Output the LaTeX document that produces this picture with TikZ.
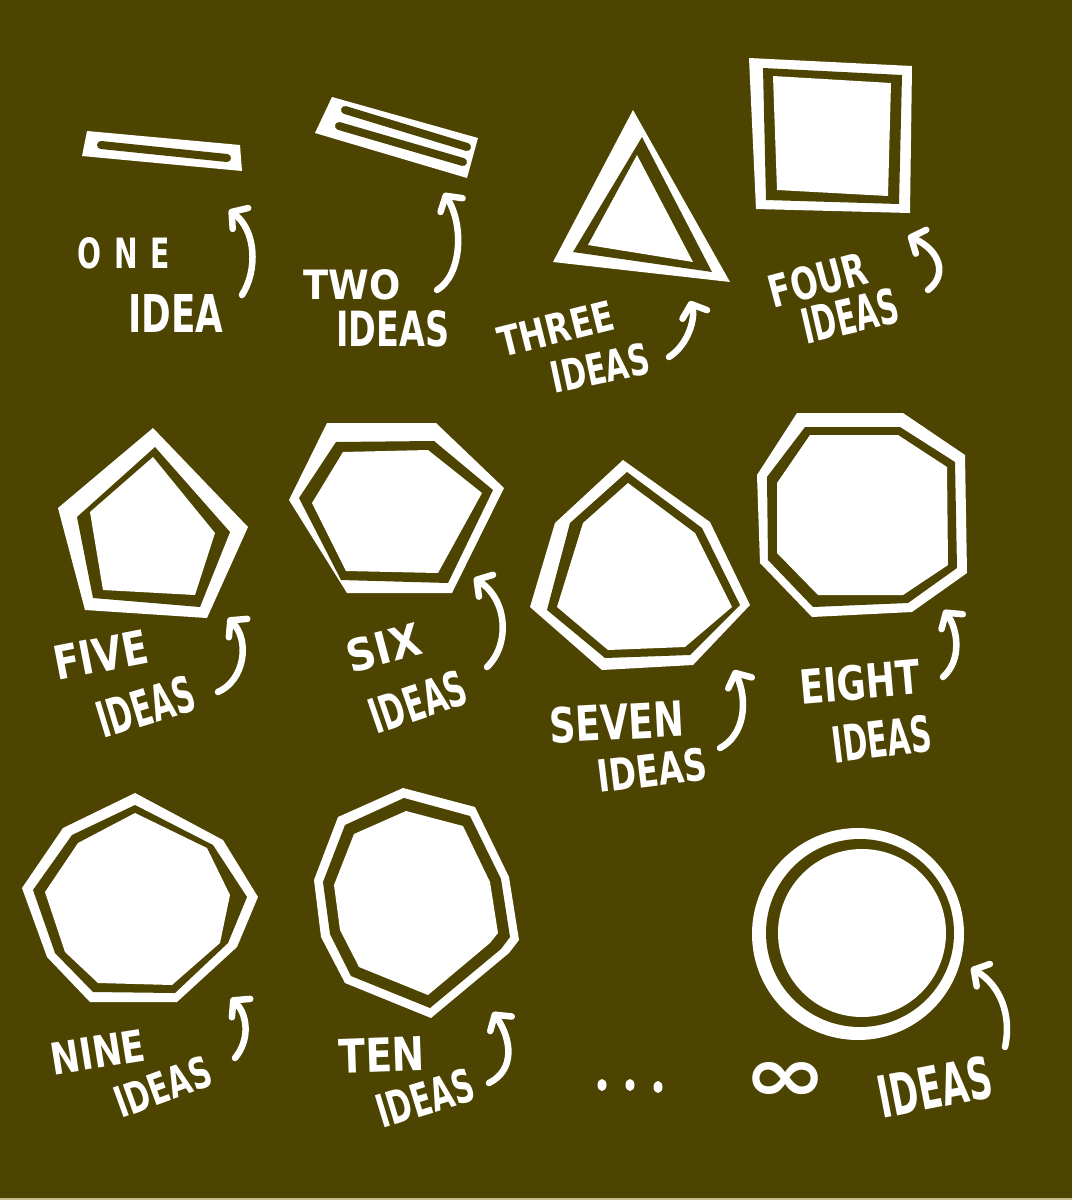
\documentclass[tikz,border=0pt]{standalone}
\usepackage{fontspec}
\usepackage{graphicx}
\usetikzlibrary{arrows.meta}
\newfontfamily\hand{DejaVu Sans Condensed Bold}
\definecolor{bg}{RGB}{77,68,1}
\definecolor{strip}{RGB}{196,190,140}
\newcommand\hlab[3]{\resizebox{#1pt}{#2pt}{\hand #3}}
\tikzset{
  wfill/.style={fill=white},
  bfill/.style={fill=bg},
  slotline/.style={draw=bg, line width=8pt, line cap=round},
  arr/.style={draw=white, line width=6.5pt, line cap=round,
    -{Straight Barb[length=11pt,width=26pt,round]}},
  lbl/.style={text=white, inner sep=0pt},
}
\begin{document}
\begin{tikzpicture}[x=1pt,y=-1pt]
\fill[bg] (0,0) rectangle (1072,1200);
\useasboundingbox (0,0) rectangle (1072,1200);
\fill[strip] (0,1197.5) rectangle (1072,1200);

% ONE
\fill[wfill] (87,131) -- (240,145) -- (242,171) -- (82,156) -- cycle;
\draw[slotline] (101,145) -- (227,158);
% TWO
\fill[wfill] (332,97) -- (478,138) -- (467,178) -- (315,133) -- cycle;
\draw[slotline] (345,110) -- (467,147);
\draw[slotline] (339,126) -- (463,162);
% THREE
\fill[wfill] (633,110) -- (553,262) -- (730,282) -- cycle;
\fill[bfill] (642,137) -- (573,252) -- (712,272) -- cycle;
\fill[wfill] (637,155) -- (588,245) -- (693,262) -- cycle;
% FOUR
\fill[wfill] (749,58) -- (912,66) -- (910,213) -- (756,209) -- cycle;
\fill[bfill] (763,68) -- (902,75) -- (899,204) -- (766,200) -- cycle;
\fill[wfill] (773,76) -- (891,83) -- (888,196) -- (777,190) -- cycle;
% FIVE
\fill[wfill] (153,428) -- (248,527) -- (207,618) -- (85,610) -- (58,508) -- cycle;
\fill[bfill] (155,447) -- (230,532) -- (200,607) -- (93,598) -- (77,517) -- cycle;
\fill[wfill] (153,457) -- (215,533) -- (195,595) -- (103,590) -- (90,512) -- cycle;
% SIX
\fill[wfill] (327,423) -- (436,423) -- (504,488) -- (452,593) -- (347,593) -- (289,500) -- cycle;
\fill[bfill] (336,442) -- (434,441) -- (493,490) -- (448,583) -- (341,580) -- (299,498) -- cycle;
\fill[wfill] (343,452) -- (428,450) -- (482,493) -- (438,573) -- (346,571) -- (312,503) -- cycle;
% SEVEN
\fill[wfill] (623,460) -- (710,522) -- (750,605) -- (693,665) -- (602,670) -- (530,607) -- (555,523) -- cycle;
\fill[bfill] (627,472) -- (702,528) -- (740,605) -- (690,655) -- (605,658) -- (547,610) -- (570,523) -- cycle;
\fill[wfill] (628,483) -- (695,533) -- (732,607) -- (685,647) -- (608,650) -- (557,607) -- (583,523) -- cycle;
% EIGHT
\fill[wfill] (797,413) -- (903,413) -- (965,455) -- (967,573) -- (912,612) -- (812,617) -- (760,563) -- (757,475) -- cycle;
\fill[bfill] (805,427) -- (900,427) -- (955,462) -- (957,568) -- (908,603) -- (813,607) -- (768,560) -- (767,477) -- cycle;
\fill[wfill] (810,435) -- (898,435) -- (947,467) -- (948,565) -- (903,595) -- (818,595) -- (777,553) -- (777,483) -- cycle;
% NINE
\fill[wfill] (135,793) -- (223,840) -- (258,897) -- (237,947) -- (177,1002) -- (90,1002) -- (47,957) -- (22,888) -- (63,828) -- cycle;
\fill[bfill] (135,805) -- (213,845) -- (247,897) -- (228,943) -- (175,993) -- (93,992) -- (55,953) -- (33,890) -- (72,835) -- cycle;
\fill[wfill] (135,813) -- (207,848) -- (230,895) -- (220,943) -- (172,985) -- (98,983) -- (65,952) -- (45,892) -- (78,843) -- cycle;
% TEN
\fill[wfill] (403,788) -- (475,807) -- (509,877) -- (519,940) -- (509,953) -- (431,1018) -- (345,983) -- (321,937) -- (314,880) -- (338,817) -- cycle;
\fill[bfill] (404,798) -- (470,816) -- (501,879) -- (510,937) -- (501,949) -- (430,1008) -- (351,976) -- (330,934) -- (323,882) -- (345,825) -- cycle;
\fill[wfill] (406,811) -- (463,826) -- (490,882) -- (498,933) -- (490,943) -- (428,995) -- (359,967) -- (340,930) -- (334,885) -- (354,834) -- cycle;
% INFINITY circle
\fill[wfill] (858,934) circle[radius=106];
\fill[bfill] (860,933) circle[radius=94];
\fill[wfill] (862,933) circle[radius=84];
% dots
\fill[wfill] (602,1085) ellipse[x radius=4.5, y radius=6];
\fill[wfill] (630,1085) ellipse[x radius=4.5, y radius=6];
\fill[wfill] (658,1087) ellipse[x radius=4.5, y radius=6];

% labels
\node[lbl] (oneA) at (124,253) {\hlab{92}{31}{O\hspace{0.4em}N\hspace{0.4em}E}};
\node[lbl] (oneB) at (176,313) {\hlab{95}{38}{IDEA}};
\node[lbl] (twoA) at (352,285) {\hlab{97}{30}{TWO}};
\node[lbl] (twoB) at (393,329) {\hlab{113}{36}{IDEAS}};
\node[lbl, rotate=14] (threeA) at (556,329) {\hlab{118}{30}{THREE}};
\node[lbl, rotate=12] (threeB) at (600,368) {\hlab{100}{32}{IDEAS}};
\node[lbl, rotate=15] (fourA) at (818,280) {\hlab{100}{33}{FOUR}};
\node[lbl, rotate=13] (fourB) at (850,316) {\hlab{98}{36}{IDEAS}};
\node[lbl, rotate=11] (fiveA) at (101,655) {\hlab{95}{34}{FIVE}};
\node[lbl, rotate=17] (fiveB) at (146,707) {\hlab{100}{37}{IDEAS}};
\node[lbl, rotate=15] (sixA) at (384,648) {\hlab{75}{33}{SIX}};
\node[lbl, rotate=19] (sixB) at (418,702) {\hlab{100}{36}{IDEAS}};
\node[lbl, rotate=3] (sevenA) at (617,722) {\hlab{135}{36}{SEVEN}};
\node[lbl, rotate=7] (sevenB) at (652,770) {\hlab{110}{33}{IDEAS}};
\node[lbl, rotate=5] (eightA) at (860,682) {\hlab{120}{35}{EIGHT}};
\node[lbl, rotate=7] (eightB) at (882,739) {\hlab{100}{37}{IDEAS}};
\node[lbl, rotate=9] (nineA) at (98,1052) {\hlab{95}{32}{NINE}};
\node[lbl, rotate=20] (nineB) at (163,1087) {\hlab{100}{32}{IDEAS}};
\node[lbl, rotate=2] (tenA) at (382,1055) {\hlab{86}{34}{TEN}};
\node[lbl, rotate=17] (tenB) at (425,1098) {\hlab{100}{34}{IDEAS}};
\node[lbl] (infA) at (786,1082) {\hlab{84}{39}{∞}};
\node[lbl, rotate=11] (infB) at (935,1087) {\hlab{115}{43}{IDEAS}};

% arrow ends
\coordinate (s1) at (242,295); \coordinate (e1) at (229,210);
\coordinate (s2) at (437,290); \coordinate (e2) at (444,193);
\coordinate (s3) at (669,357); \coordinate (e3) at (690,301);
\coordinate (s4) at (928,290); \coordinate (e4) at (908,236);
\coordinate (s5) at (218,692); \coordinate (e5) at (228,618);
\coordinate (s6) at (487,667); \coordinate (e6) at (474,578);
\coordinate (s7) at (720,748); \coordinate (e7) at (734,670);
\coordinate (s8) at (943,677); \coordinate (e8) at (944,610);
\coordinate (s9) at (235,1058); \coordinate (e9) at (231,998);
\coordinate (s10) at (489,1083); \coordinate (e10) at (493,1012);
\coordinate (s11) at (1005,1047); \coordinate (e11) at (971,968);

\draw[arr] (s1) .. controls (258,270) and (256,230) .. (e1);
\draw[arr] (s2) .. controls (462,275) and (464,225) .. (e2);
\draw[arr] (s3) .. controls (688,345) and (696,318) .. (e3);
\draw[arr] (s4) .. controls (948,275) and (940,250) .. (e4);
\draw[arr] (s5) .. controls (245,680) and (250,640) .. (e5);
\draw[arr] (s6) .. controls (510,645) and (508,600) .. (e6);
\draw[arr] (s7) .. controls (745,735) and (748,700) .. (e7);
\draw[arr] (s8) .. controls (962,660) and (958,630) .. (e8);
\draw[arr] (s9) .. controls (250,1040) and (248,1015) .. (e9);
\draw[arr] (s10) .. controls (515,1070) and (512,1040) .. (e10);
\draw[arr] (s11) .. controls (1012,1015) and (1000,985) .. (e11);
\end{tikzpicture}
\end{document}
